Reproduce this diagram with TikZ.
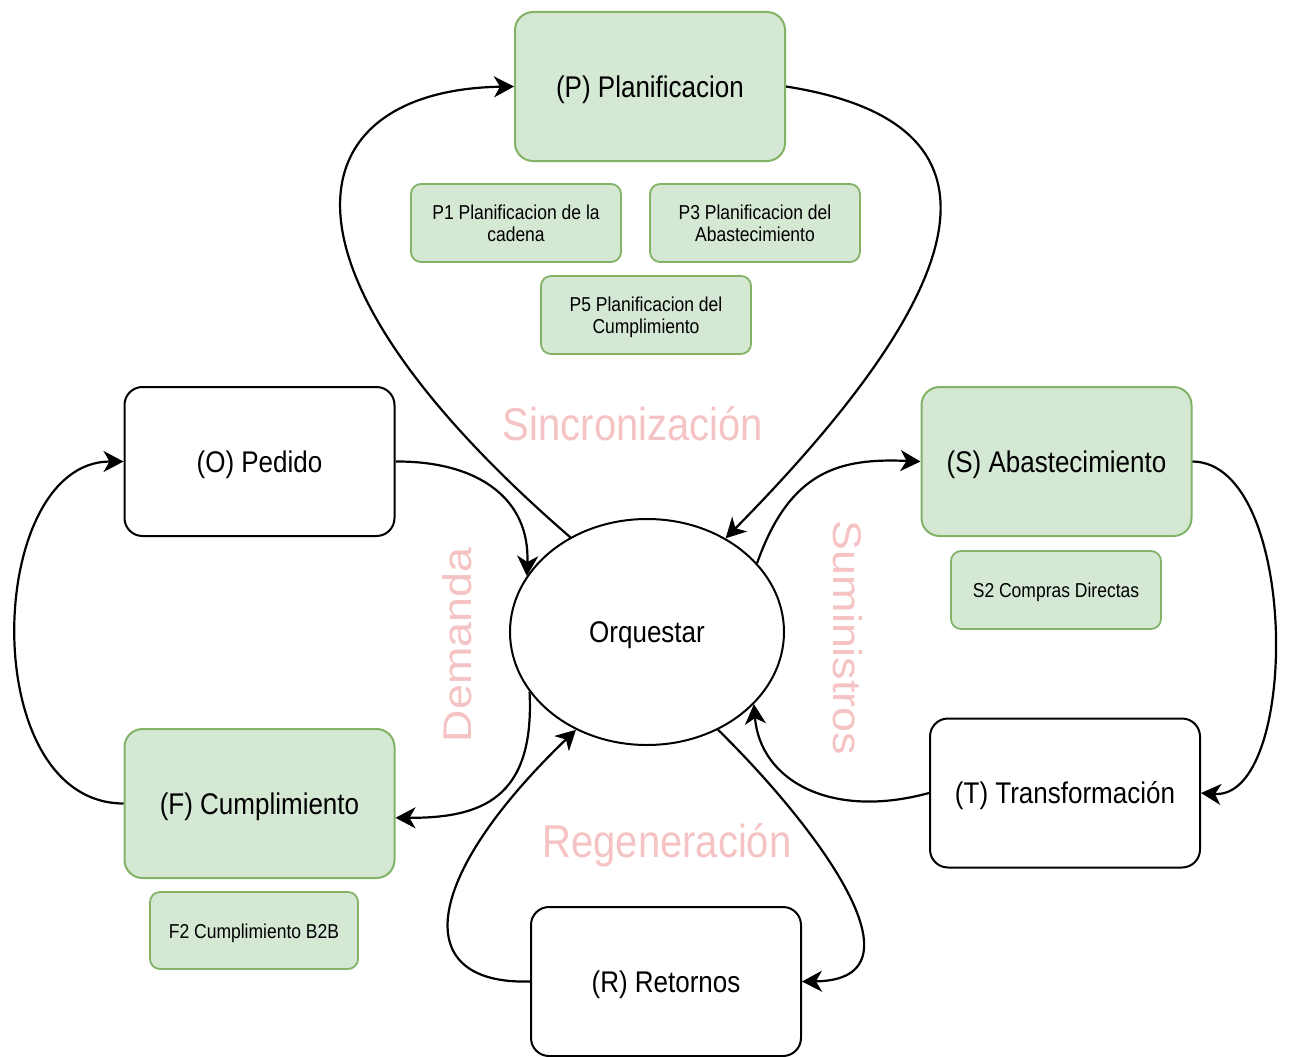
\documentclass[tikz,border=0pt]{standalone}
\usepackage{fontspec}
\setmainfont{Liberation Sans}
\usetikzlibrary{shapes.geometric,arrows.meta}
\definecolor{gfill}{HTML}{D5E8D4}
\definecolor{gline}{HTML}{82B366}
\definecolor{pinklab}{RGB}{245,195,195}
\newcommand{\tallt}[1]{\raisebox{-3.5pt}[\height][\depth]{\scalebox{1}[1.15]{\begin{tabular}{@{}c@{}}#1\end{tabular}}}}
\newcommand{\longt}[1]{\scalebox{1.12}[1]{#1}}
\tikzset{
  bigbox/.style={rectangle, rounded corners=18pt, minimum width=270pt, minimum height=149pt, inner sep=0pt, line width=2pt, draw=black, fill=white, font=\fontsize{26}{31}\selectfont},
  greenbox/.style={bigbox, draw=gline, fill=gfill},
  subbox/.style={rectangle, rounded corners=10pt, minimum width=210pt, minimum height=78pt, inner sep=0pt, line width=1.8pt, draw=gline, fill=gfill, align=center, font=\fontsize{17.5}{19}\selectfont},
  lab/.style={text=pinklab, font=\fontsize{40}{46}\selectfont, inner sep=0pt},
  arr/.style={line width=2.2pt, -{Stealth[length=20pt,width=21pt,inset=6pt]}},
}
\begin{document}
\begin{tikzpicture}[x=1pt,y=-1pt]
\useasboundingbox[fill=white] (0,0) rectangle (1294,1057);
% labels
\node[lab] (lsinc) at (633,424) {\scalebox{1}[1.15]{Sincronización}};
\node[lab] (lreg) at (667,845) {\scalebox{1}[1.15]{Regeneración}};
\node[lab, rotate=90] (ldem) at (457,645) {\longt{Demanda}};
\node[lab, rotate=-90] (lsum) at (848,638) {\longt{Suministros}};
% nodes
\node[greenbox] (P) at (650,86.5) {\tallt{(P) Planificacion}};
\node[subbox] (P1) at (516,223) {\tallt{P1 Planificacion de la\\cadena}};
\node[subbox] (P3) at (755,223) {\tallt{P3 Planificacion del\\Abastecimiento}};
\node[subbox] (P5) at (646,315) {\tallt{P5 Planificacion del\\Cumplimiento}};
\node[bigbox] (O) at (259.5,461.5) {\tallt{(O) Pedido}};
\node[greenbox] (S) at (1056.5,461.5) {\tallt{(S) Abastecimiento}};
\node[subbox] (S2) at (1056,590) {\tallt{S2 Compras Directas}};
\node[ellipse, draw=black, line width=2pt, fill=white, minimum width=274pt, minimum height=226pt, inner sep=0pt, font=\fontsize{26}{31}\selectfont] (E) at (647,632) {\tallt{Orquestar}};
\node[greenbox] (F) at (259.5,803.5) {\tallt{(F) Cumplimiento}};
\node[subbox, minimum width=208pt, minimum height=77pt] (F2) at (254,930.5) {\tallt{F2 Cumplimiento B2B}};
\node[bigbox] (T) at (1065,793) {\tallt{(T) Transformación}};
\node[bigbox] (R) at (666,981.5) {\tallt{(R) Retornos}};
% connectors
\draw[arr] (E.129) .. controls (250,260) and (300,90) .. (P.west);
\draw[arr] (P.east) .. controls (1000,120) and (1000,260) .. (E.50);
\draw[arr] (O.east) .. controls (480,461) and (530,500) .. (E.155);
\draw[arr] (E.-153) .. controls (535,800) and (480,818) .. (F.-6);
\draw[arr] (F.west) .. controls (-25,803) and (-15,461.5) .. (O.west);
\draw[arr] (E.32) .. controls (790,470) and (840,458) .. (S.west);
\draw[arr] (S.east) .. controls (1300,463) and (1300,800) .. (T.east);
\draw[arr] (T.west) .. controls (830,820) and (760,780) .. (E.-34);
\draw[arr] (E.-54) .. controls (820,830) and (930,980) .. (R.east);
\draw[arr] (R.west) .. controls (410,985) and (420,880) .. (E.-126);
\end{tikzpicture}
\end{document}
